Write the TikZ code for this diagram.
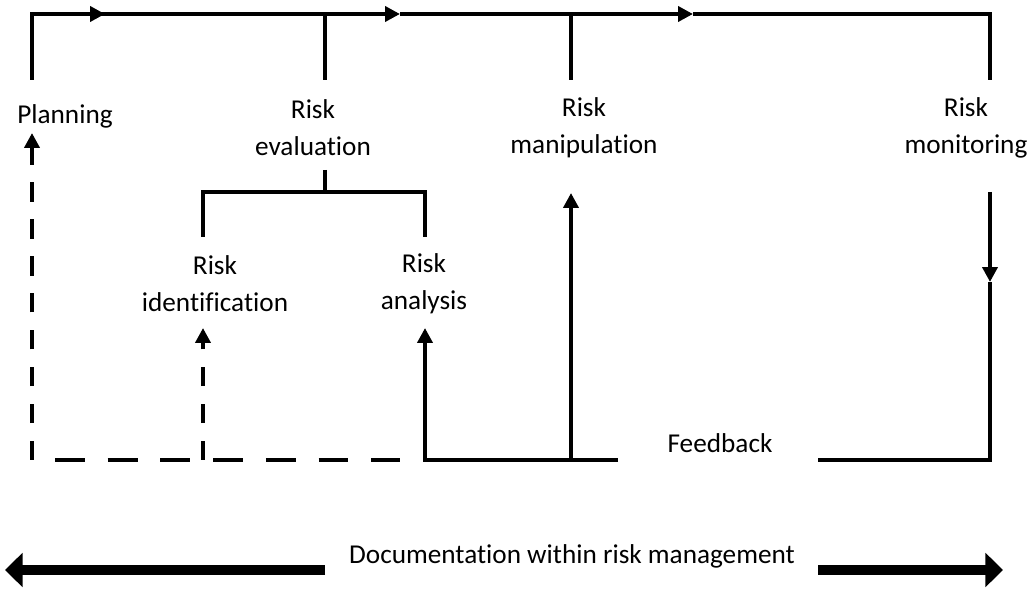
\documentclass[tikz,border=0pt]{standalone}
\usepackage{fontspec}
\setmainfont[Ligatures=NoCommon]{Carlito}
\usetikzlibrary{arrows.meta,positioning}

\begin{document}
\begin{tikzpicture}[
  x=0.02cm, y=-0.02cm,
  lbl/.style={font=\fontsize{15.5}{21}\selectfont, align=center, inner sep=0pt},
  flow/.style={line width=2.5pt},
  tip/.style={-{Triangle[length=8.5pt,width=8.5pt]}},
  dashv/.style={line width=2.5pt, dash pattern=on 11pt off 10pt},
  dashh/.style={line width=2.5pt, dash pattern=on 17pt off 13pt},
  docarrow/.style={line width=5.5pt, -{Triangle[length=10pt,width=19pt]}}
]
  \useasboundingbox (0,0) rectangle (1032,590);

  % Stages
  \node[lbl] (plan) at (65,116) {Planning};
  \node[lbl] (eval) at (313,128) {Risk\\evaluation};
  \node[lbl] (manip) at (584,128) {Risk\\manipulation};
  \node[lbl] (monit) at (966,128) {Risk\\monitoring};
  \node[lbl] (ident) at (215,284) {Risk\\identification};
  \node[lbl] (anal) at (424,284) {Risk\\analysis};
  \node[lbl] (feed) at (720,443) {Feedback};
  \node[lbl] (doc) at (572,556) {Documentation within risk management};

  % Points on the main line
  \coordinate (p0) at (32,80);
  \coordinate (c0) at (32,14);
  \coordinate (a1) at (105,14);
  \coordinate (a2) at (400,14);
  \coordinate (a3) at (693,14);
  \coordinate (c1) at (990,14);
  \coordinate (t1) at (325,14);
  \coordinate (t2) at (571,14);
  \coordinate (t1b) at (325,80);
  \coordinate (t2b) at (571,80);
  \coordinate (t3b) at (990,80);

  % Evaluation split
  \coordinate (e0) at (325,170);
  \coordinate (e1) at (325,192);
  \coordinate (el) at (203,192);
  \coordinate (er) at (425,192);
  \coordinate (elb) at (203,237);
  \coordinate (erb) at (425,237);

  % Feedback points
  \coordinate (f0) at (32,460);
  \coordinate (fd) at (400,460);
  \coordinate (fi) at (203,460);
  \coordinate (fa) at (425,460);
  \coordinate (fm) at (571,460);
  \coordinate (fe) at (618,460);
  \coordinate (g0) at (818,460);
  \coordinate (g1) at (990,460);
  \coordinate (gm) at (990,282);
  \coordinate (gt) at (990,192);

  % Documentation ends
  \coordinate (dl0) at (325,570);
  \coordinate (dl1) at (5,570);
  \coordinate (dr0) at (818,570);
  \coordinate (dr1) at (1003,570);

  % Main line
  \draw[flow, line join=miter] (p0) -- (c0) -- (a1);
  \draw[flow, tip] (c0) -- (a1);
  \draw[flow, tip] (a1) -- (a2);
  \draw[flow, tip] (a2) -- (a3);
  \draw[flow, line join=miter] (a3) -- (c1) -- (t3b);
  \draw[flow] (t1) -- (t1b);
  \draw[flow] (t2) -- (t2b);

  % Evaluation split
  \draw[flow] (e0) -- (e1);
  \draw[flow, line join=miter] (elb) -- (el) -- (er) -- (erb);

  % Feedback
  \draw[dashv, tip] (f0) -- (32,133);
  \draw[dashh] (55,460) -- (fd);
  \draw[dashv, tip] (fi) -- (203,328);
  \draw[flow, tip, line join=miter] (fe) -- (fa) -- (425,328);
  \draw[flow, tip] (fm) -- (571,193);
  \draw[flow, tip] (gt) -- (gm);
  \draw[flow, line join=miter] (gm) -- (g1) -- (g0);

  % Documentation
  \draw[docarrow] (dl0) -- (dl1);
  \draw[docarrow] (dr0) -- (dr1);
\end{tikzpicture}
\end{document}
